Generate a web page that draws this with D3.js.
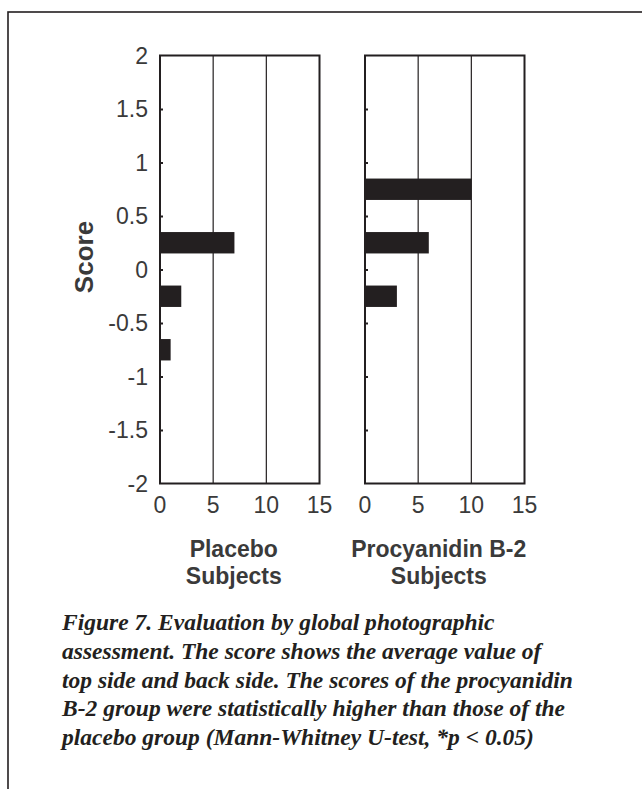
<!DOCTYPE html>
<html>
<head>
<meta charset="utf-8">
<script src="https://cdn.jsdelivr.net/npm/d3@7"></script>
<style>
    body { margin: 0; background: #ffffff; }
    svg { display: block; }
    .frame { fill: none; stroke: #231f20; stroke-width: 2; }
    .grid { stroke: #231f20; stroke-width: 1.2; }
    .bar { fill: #231f20; }
    .tick-label { font-family: 'Liberation Sans', Arial, sans-serif; font-size: 23px; fill: #3a3a3a; }
    .axis-title { font-family: 'Liberation Sans', Arial, sans-serif; font-weight: bold; fill: #3a3a3a; }
    .caption { font-family: 'Liberation Serif', 'Times New Roman', serif; font-weight: bold; font-style: italic; fill: #231f20; }
</style>
</head>
<body>
<svg id="chart" width="642" height="789"></svg>
<script>
'use strict';

// Score categories (bar centres) and subject counts per group
const scores = [0.75, 0.25, -0.25, -0.75];
const placeboCounts = [0, 7, 2, 1];
const procyanidinCounts = [10, 6, 3, 0];

const yTicks = [2, 1.5, 1, 0.5, 0, -0.5, -1, -1.5, -2];
const xTicks = [0, 5, 10, 15];

const panelTitles = [
    ['Placebo', 'Subjects'],
    ['Procyanidin B-2', 'Subjects']
];

const captionLines = [
    'Figure 7. Evaluation by global photographic',
    'assessment. The score shows the average value of',
    'top side and back side. The scores of the procyanidin',
    'B-2 group were statistically higher than those of the',
    'placebo group (Mann-Whitney U-test, *p < 0.05)'
];

const svg = d3.select('#chart');

// Outer page border (runs off the right and bottom edges)
svg.append('rect')
   .attr('x', 8)
   .attr('y', 12)
   .attr('width', 800)
   .attr('height', 900)
   .attr('fill', 'none')
   .attr('stroke', '#231f20')
   .attr('stroke-width', 1.6);

// Shared vertical scale
const y = d3.scaleLinear()
    .domain([-2, 2])
    .range([483.5, 55.5]);

const barHalf = 0.1;

function drawPanel(left, counts, title, showYLabels) {
    const x = d3.scaleLinear()
        .domain([0, 15])
        .range([left, left + 159.5]);

    const g = svg.append('g');

    // Vertical gridlines at 5 and 10
    g.selectAll('line.grid')
     .data([5, 10])
     .enter()
     .append('line')
       .attr('class', 'grid')
       .attr('x1', d => x(d))
       .attr('x2', d => x(d))
       .attr('y1', y(2))
       .attr('y2', y(-2));

    // Bars
    g.selectAll('rect.bar')
     .data(scores.map((s, i) => ({ score: s, count: counts[i] })).filter(d => d.count > 0))
     .enter()
     .append('rect')
       .attr('class', 'bar')
       .attr('x', x(0))
       .attr('y', d => y(d.score + barHalf))
       .attr('width', d => x(d.count) - x(0))
       .attr('height', d => y(d.score - barHalf) - y(d.score + barHalf));

    // Left axis: small inward ticks only
    const yAxis = d3.axisLeft(y)
        .tickValues(yTicks.slice(1, -1))
        .tickSize(-3)
        .tickFormat('');
    g.append('g')
     .attr('transform', `translate(${x(0)}, 0)`)
     .call(yAxis)
     .call(a => a.select('.domain').remove())
     .call(a => a.selectAll('line').attr('stroke', '#231f20').attr('stroke-width', 2));

    // Frame
    g.append('rect')
     .attr('class', 'frame')
     .attr('x', x(0))
     .attr('y', y(2))
     .attr('width', x(15) - x(0))
     .attr('height', y(-2) - y(2));

    // X tick labels
    g.selectAll('text.xlab')
     .data(xTicks)
     .enter()
     .append('text')
       .attr('class', 'tick-label')
       .attr('x', d => x(d))
       .attr('y', 513)
       .attr('text-anchor', 'middle')
       .text(d => d);

    if (showYLabels) {
        g.selectAll('text.ylab')
         .data(yTicks)
         .enter()
         .append('text')
           .attr('class', 'tick-label')
           .attr('x', 148)
           .attr('y', d => y(d))
           .attr('dy', '0.36em')
           .attr('text-anchor', 'end')
           .text(d => d);
    }

    // Panel title under the axis
    const cx = (x(0) + x(15)) / 2 - 6;
    g.selectAll('text.title')
     .data(title)
     .enter()
     .append('text')
       .attr('class', 'axis-title')
       .attr('x', cx)
       .attr('y', (d, i) => 557 + i * 27)
       .attr('text-anchor', 'middle')
       .style('font-size', '23px')
       .text(d => d);
}

drawPanel(160, placeboCounts, panelTitles[0], true);
drawPanel(365, procyanidinCounts, panelTitles[1], false);

// Y axis title
svg.append('text')
   .attr('class', 'axis-title')
   .attr('transform', 'translate(93, 257) rotate(-90)')
   .attr('text-anchor', 'middle')
   .style('font-size', '26px')
   .text('Score');

// Caption, sized so the longest line matches the figure width
const caption = svg.append('g');
const lines = caption.selectAll('text')
    .data(captionLines)
    .enter()
    .append('text')
      .attr('class', 'caption')
      .attr('x', 62)
      .attr('y', (d, i) => 630 + i * 28.8)
      .style('font-size', '20px')
      .text(d => d);

const widest = d3.max(lines.nodes(), n => n.getComputedTextLength());
lines.style('font-size', `${20 * 511 / widest}px`);
</script>
</body>
</html>
